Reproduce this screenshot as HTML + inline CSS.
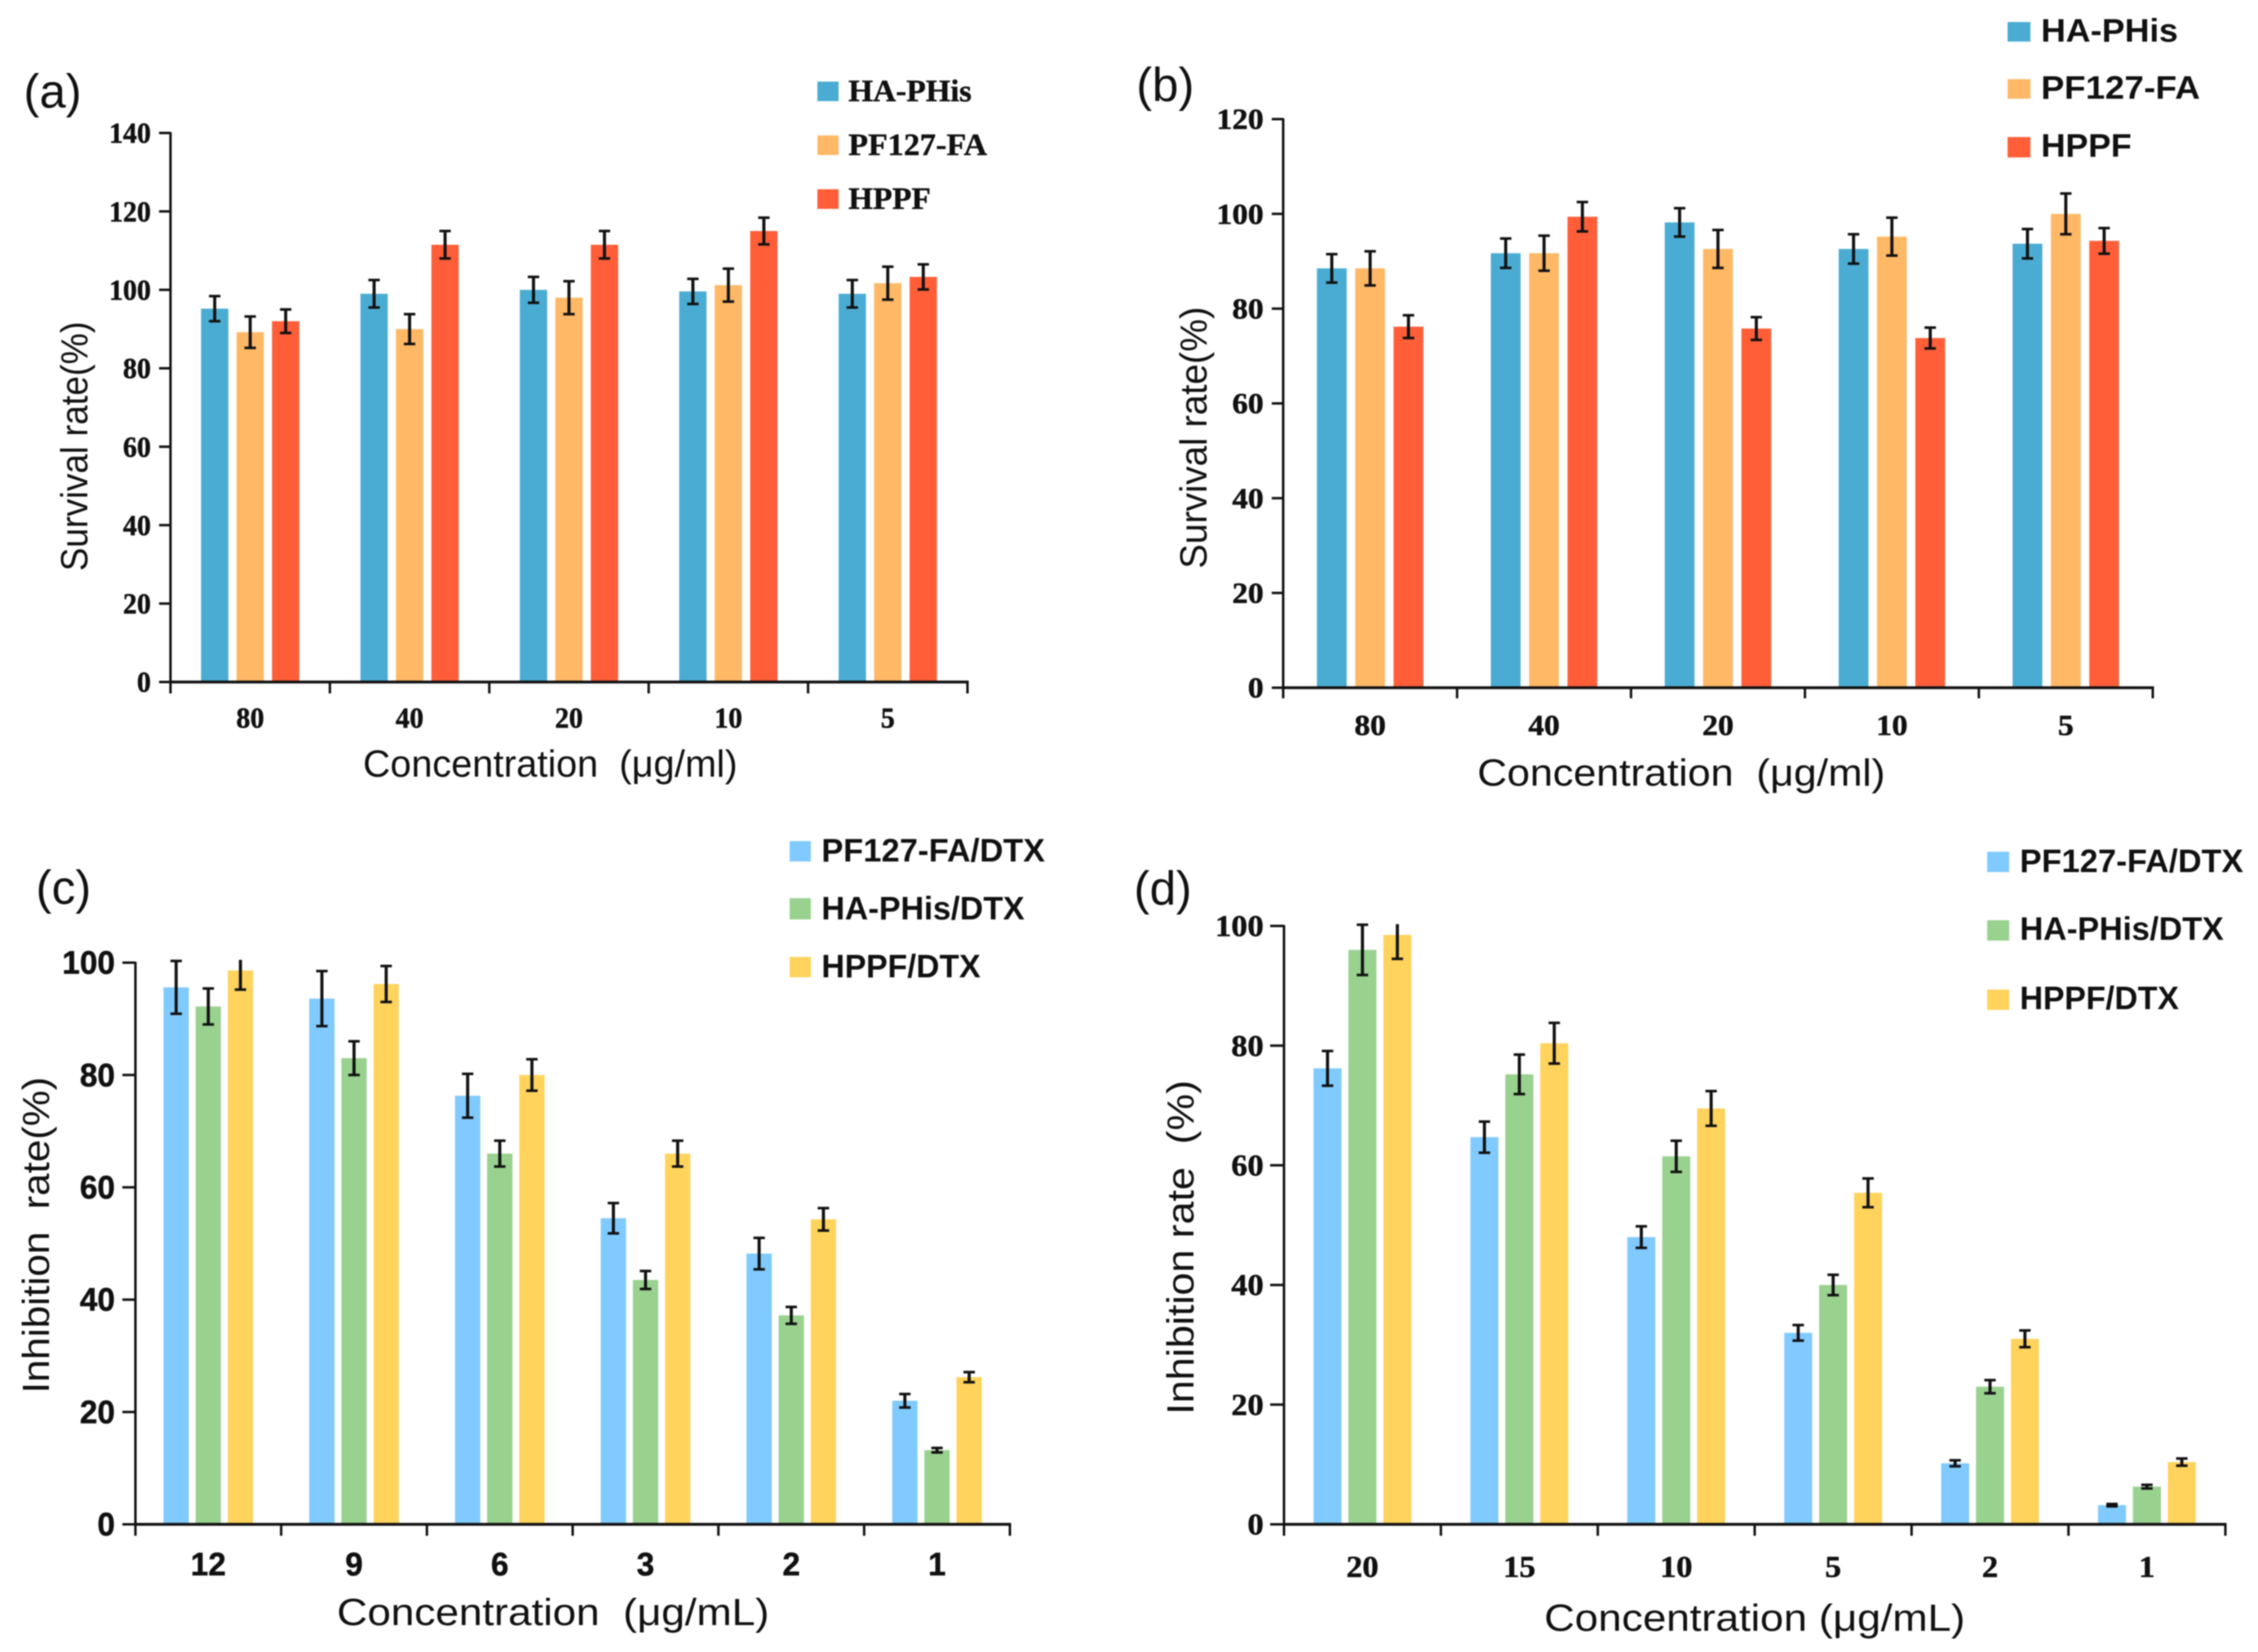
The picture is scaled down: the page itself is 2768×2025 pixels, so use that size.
<!DOCTYPE html>
<html lang="en">
<head>
<meta charset="utf-8">
<title>Survival and inhibition rate bar charts</title>
<style>
html,body{margin:0;padding:0;background:#fff;}
svg{display:block;filter:blur(0.7px);}
text{fill:#111;white-space:pre;}
.lab{font-family:"Liberation Sans",sans-serif;font-size:58px;}
.title{font-family:"Liberation Sans",sans-serif;font-size:46px;}
.lg-serif{font-family:"Liberation Serif",serif;font-weight:bold;font-size:38px;stroke:#111;stroke-width:0.5px;}
.lg-sans{font-family:"Liberation Sans",sans-serif;font-weight:bold;font-size:40px;}
</style>
</head>
<body>
<svg id="figure" xmlns="http://www.w3.org/2000/svg" width="2768" height="2025" viewBox="0 0 2768 2025">
  <rect x="0" y="0" width="2768" height="2025" fill="#fff"/>

  <g id="panel-a">
    <text class="lab" x="29" y="132">(a)</text>
    <text class="title" x="445" y="952" textLength="459" lengthAdjust="spacingAndGlyphs">Concentration  (μg/ml)</text>
    <text class="title" transform="translate(107,700) rotate(-90)" textLength="306" lengthAdjust="spacingAndGlyphs">Survival rate(%)</text>
    <rect x="1002" y="100" width="26" height="24" fill="#4BACD3"/>
    <text class="lg-serif" x="1040" y="124" textLength="151" lengthAdjust="spacingAndGlyphs">HA-PHis</text>
    <rect x="1002" y="166" width="26" height="24" fill="#FFB866"/>
    <text class="lg-serif" x="1040" y="190" textLength="170" lengthAdjust="spacingAndGlyphs">PF127-FA</text>
    <rect x="1002" y="232" width="26" height="24" fill="#FF5E38"/>
    <text class="lg-serif" x="1040" y="256" textLength="101" lengthAdjust="spacingAndGlyphs">HPPF</text>
  </g>

  <g id="panel-b">
    <text class="lab" x="1393" y="124">(b)</text>
    <text class="title" x="1811" y="963" textLength="500" lengthAdjust="spacingAndGlyphs">Concentration  (μg/ml)</text>
    <text class="title" transform="translate(1479,697) rotate(-90)" textLength="321" lengthAdjust="spacingAndGlyphs">Survival rate(%)</text>
    <rect x="2461" y="27" width="28" height="24" fill="#4BACD3"/>
    <text class="lg-sans" x="2502" y="51" textLength="168" lengthAdjust="spacingAndGlyphs">HA-PHis</text>
    <rect x="2461" y="97" width="28" height="24" fill="#FFB866"/>
    <text class="lg-sans" x="2502" y="121" textLength="195" lengthAdjust="spacingAndGlyphs">PF127-FA</text>
    <rect x="2461" y="168" width="28" height="25" fill="#FF5E38"/>
    <text class="lg-sans" x="2502" y="192" textLength="111" lengthAdjust="spacingAndGlyphs">HPPF</text>
  </g>

  <g id="panel-c">
    <text class="lab" x="44" y="1108">(c)</text>
    <text class="title" x="413" y="1992" textLength="530" lengthAdjust="spacingAndGlyphs">Concentration  (μg/mL)</text>
    <text class="title" transform="translate(60,1708) rotate(-90)" textLength="388" lengthAdjust="spacingAndGlyphs">Inhibition  rate(%)</text>
    <rect x="968" y="1031" width="26" height="25" fill="#80CAFF"/>
    <text class="lg-sans" x="1007" y="1056" textLength="274" lengthAdjust="spacingAndGlyphs">PF127-FA/DTX</text>
    <rect x="968" y="1101" width="26" height="26" fill="#99D18F"/>
    <text class="lg-sans" x="1007" y="1127" textLength="249" lengthAdjust="spacingAndGlyphs">HA-PHis/DTX</text>
    <rect x="968" y="1173" width="26" height="25" fill="#FFD35C"/>
    <text class="lg-sans" x="1007" y="1198" textLength="195" lengthAdjust="spacingAndGlyphs">HPPF/DTX</text>
  </g>

  <g id="panel-d">
    <text class="lab" x="1390" y="1109">(d)</text>
    <text class="title" x="1893" y="1999" textLength="516" lengthAdjust="spacingAndGlyphs">Concentration (μg/mL)</text>
    <text class="title" transform="translate(1463,1734) rotate(-90)" textLength="410" lengthAdjust="spacingAndGlyphs">Inhibition rate  (%)</text>
    <rect x="2436" y="1044" width="27" height="25" fill="#80CAFF"/>
    <text class="lg-sans" x="2476" y="1069" textLength="274" lengthAdjust="spacingAndGlyphs">PF127-FA/DTX</text>
    <rect x="2436" y="1128" width="27" height="25" fill="#99D18F"/>
    <text class="lg-sans" x="2476" y="1152" textLength="250" lengthAdjust="spacingAndGlyphs">HA-PHis/DTX</text>
    <rect x="2436" y="1213" width="27" height="25" fill="#FFD35C"/>
    <text class="lg-sans" x="2476" y="1237" textLength="195" lengthAdjust="spacingAndGlyphs">HPPF/DTX</text>
  </g>
</svg>

<script>
// Panel (a)
const categoriesA = ['80', '40', '20', '10', '5'];
const yTicksA = [0, 20, 40, 60, 80, 100, 120, 140];
const haPhisA = [95.2, 99, 100, 99.6, 99];
const haPhisErrA = [3.2, 3.5, 3.3, 3.2, 3.5];
const pf127A = [89.2, 90, 98, 101.2, 101.7];
const pf127ErrA = [4, 3.8, 4.2, 4.2, 4.2];
const hppfA = [92, 111.5, 111.5, 115, 103.3];
const hppfErrA = [3, 3.5, 3.5, 3.4, 3.2];

// Panel (b)
const categoriesB = ['80', '40', '20', '10', '5'];
const yTicksB = [0, 20, 40, 60, 80, 100, 120];
const haPhisB = [88.5, 91.7, 98.2, 92.6, 93.7];
const haPhisErrB = [3, 3.1, 3, 3.1, 3.1];
const pf127B = [88.5, 91.7, 92.6, 95.2, 100];
const pf127ErrB = [3.6, 3.7, 4, 4, 4.3];
const hppfB = [76.2, 99.4, 75.8, 73.8, 94.3];
const hppfErrB = [2.4, 3.1, 2.4, 2.2, 2.7];

// Panel (c)
const categoriesC = ['12', '9', '6', '3', '2', '1'];
const yTicksC = [0, 20, 40, 60, 80, 100];
const pf127DtxC = [95.6, 93.6, 76.3, 54.5, 48.2, 22];
const pf127DtxErrC = [4.7, 4.9, 3.9, 2.7, 2.8, 1.2];
const haPhisDtxC = [92.2, 83, 66, 43.5, 37.2, 13.2];
const haPhisDtxErrC = [3.2, 3, 2.3, 1.6, 1.5, 0.4];
const hppfDtxC = [98.6, 96.2, 80, 66, 54.3, 26.2];
const hppfDtxErrC = [3.4, 3.2, 2.8, 2.3, 2, 0.9];

// Panel (d)
const categoriesD = ['20', '15', '10', '5', '2', '1'];
const yTicksD = [0, 20, 40, 60, 80, 100];
const pf127DtxD = [76.2, 64.7, 48, 32, 10.2, 3.2];
const pf127DtxErrD = [2.9, 2.6, 1.8, 1.3, 0.5, 0.2];
const haPhisDtxD = [96, 75.2, 61.5, 40, 23, 6.3];
const haPhisDtxErrD = [4.2, 3.3, 2.6, 1.7, 1.1, 0.3];
const hppfDtxD = [98.5, 80.4, 69.5, 55.4, 31, 10.4];
const hppfDtxErrD = [4, 3.4, 2.9, 2.4, 1.4, 0.6];

const NS = 'http://www.w3.org/2000/svg';
const INK = '#111';

function make(tag, parent, props) {
  const el = document.createElementNS(NS, tag);
  for (const k in props) el.setAttribute(k, props[k]);
  parent.appendChild(el);
  return el;
}

function line(parent, x1, y1, x2, y2, w) {
  return make('line', parent, { x1: x1, y1: y1, x2: x2, y2: y2, stroke: INK, 'stroke-width': w });
}

function drawPanel(id, cfg, categories, yTicks, series) {
  const root = document.getElementById(id);
  const yScale = v => cfg.y0 - (v / cfg.yMax) * (cfg.y0 - cfg.yTop);
  const groupW = (cfg.x1 - cfg.x0) / categories.length;
  const groupX = i => cfg.x0 + groupW * (i + 0.5);

  const marks = make('g', root, {});
  
  

  series.forEach((s, si) => {
    s.values.forEach((v, i) => {
      const cx = groupX(i) + (si - 1) * cfg.barStep;
      const top = yScale(v);
      const bar = make('rect', marks, {
        x: cx - cfg.barW / 2, y: top, width: cfg.barW, height: cfg.y0 - top, fill: s.color
      });
      
      

      const hi = v + s.errs[i];
      const lo = v - s.errs[i];
      const clipped = hi > cfg.clip;
      const yHi = yScale(clipped ? cfg.clip : hi);
      const yLo = yScale(lo);
      const err = make('g', marks, {});
      
      
      line(err, cx, yHi, cx, yLo, 3.8);
      line(err, cx - 7, yLo, cx + 7, yLo, 3.2);
      if (!clipped) line(err, cx - 7, yHi, cx + 7, yHi, 3.2);
    });
  });

  const axes = make('g', root, {});
  
  
  line(axes, cfg.x0, cfg.yTop - 1, cfg.x0, cfg.y0 + 1, 3);
  line(axes, cfg.x0 - 1, cfg.y0, cfg.x1 + 1.5, cfg.y0, 3.4);

  yTicks.forEach(t => {
    const y = yScale(t);
    const tick = line(axes, cfg.x0 - cfg.yTickLen, y, cfg.x0, y, 3);
    
    
    const s = String(t);
    const lab = make('text', axes, {
      x: cfg.yLabelRight, y: y + cfg.fontSize * 0.34, 'text-anchor': 'end',
      'font-family': cfg.font, 'font-weight': 'bold', 'font-size': cfg.fontSize,
      stroke: INK, 'stroke-width': 0.6,
      textLength: s.length * cfg.digitAdv * cfg.fontSize * cfg.stretch,
      lengthAdjust: 'spacingAndGlyphs'
    });
    lab.textContent = s;
    
    
  });

  for (let i = 0; i <= categories.length; i++) {
    const x = cfg.x0 + groupW * i;
    const tick = line(axes, x, cfg.y0, x, cfg.y0 + cfg.xTickLen, 3);
    
    
  }

  categories.forEach((c, i) => {
    const lab = make('text', axes, {
      x: groupX(i), y: cfg.xLabelY, 'text-anchor': 'middle',
      'font-family': cfg.font, 'font-weight': 'bold', 'font-size': cfg.fontSize,
      stroke: INK, 'stroke-width': 0.6,
      textLength: c.length * cfg.digitAdv * cfg.fontSize * cfg.stretch,
      lengthAdjust: 'spacingAndGlyphs'
    });
    lab.textContent = c;
    
    
  });
}

const SERIF = '"Liberation Serif", serif';
const SANS = '"Liberation Sans", sans-serif';

drawPanel('panel-a',
  { x0: 209, x1: 1186, y0: 836, yTop: 163, yMax: 140, clip: 999, barW: 33.5, barStep: 43.5,
    yTickLen: 14, xTickLen: 14, yLabelRight: 185, xLabelY: 892,
    font: SERIF, fontSize: 36, digitAdv: 0.5, stretch: 0.95 },
  categoriesA, yTicksA,
  [ { key: 'ha-phis', color: '#4BACD3', values: haPhisA, errs: haPhisErrA },
    { key: 'pf127-fa', color: '#FFB866', values: pf127A, errs: pf127ErrA },
    { key: 'hppf', color: '#FF5E38', values: hppfA, errs: hppfErrA } ]);

drawPanel('panel-b',
  { x0: 1573, x1: 2639, y0: 843, yTop: 146, yMax: 120, clip: 999, barW: 36.5, barStep: 47,
    yTickLen: 14, xTickLen: 13, yLabelRight: 1549, xLabelY: 901,
    font: SERIF, fontSize: 36, digitAdv: 0.5, stretch: 1.07 },
  categoriesB, yTicksB,
  [ { key: 'ha-phis', color: '#4BACD3', values: haPhisB, errs: haPhisErrB },
    { key: 'pf127-fa', color: '#FFB866', values: pf127B, errs: pf127ErrB },
    { key: 'hppf', color: '#FF5E38', values: hppfB, errs: hppfErrB } ]);

drawPanel('panel-c',
  { x0: 166, x1: 1238, y0: 1868.5, yTop: 1180, yMax: 100, clip: 100.5, barW: 31, barStep: 39.4,
    yTickLen: 16, xTickLen: 14, yLabelRight: 141, xLabelY: 1931,
    font: SANS, fontSize: 40, digitAdv: 0.556, stretch: 0.97 },
  categoriesC, yTicksC,
  [ { key: 'pf127-fa-dtx', color: '#80CAFF', values: pf127DtxC, errs: pf127DtxErrC },
    { key: 'ha-phis-dtx', color: '#99D18F', values: haPhisDtxC, errs: haPhisDtxErrC },
    { key: 'hppf-dtx', color: '#FFD35C', values: hppfDtxC, errs: hppfDtxErrC } ]);

drawPanel('panel-d',
  { x0: 1574, x1: 2728, y0: 1868.5, yTop: 1135, yMax: 100, clip: 100.3, barW: 34.3, barStep: 42.8,
    yTickLen: 17, xTickLen: 14, yLabelRight: 1549, xLabelY: 1933,
    font: SERIF, fontSize: 37, digitAdv: 0.5, stretch: 1.07 },
  categoriesD, yTicksD,
  [ { key: 'pf127-fa-dtx', color: '#80CAFF', values: pf127DtxD, errs: pf127DtxErrD },
    { key: 'ha-phis-dtx', color: '#99D18F', values: haPhisDtxD, errs: haPhisDtxErrD },
    { key: 'hppf-dtx', color: '#FFD35C', values: hppfDtxD, errs: hppfDtxErrD } ]);
</script>
</body>
</html>
